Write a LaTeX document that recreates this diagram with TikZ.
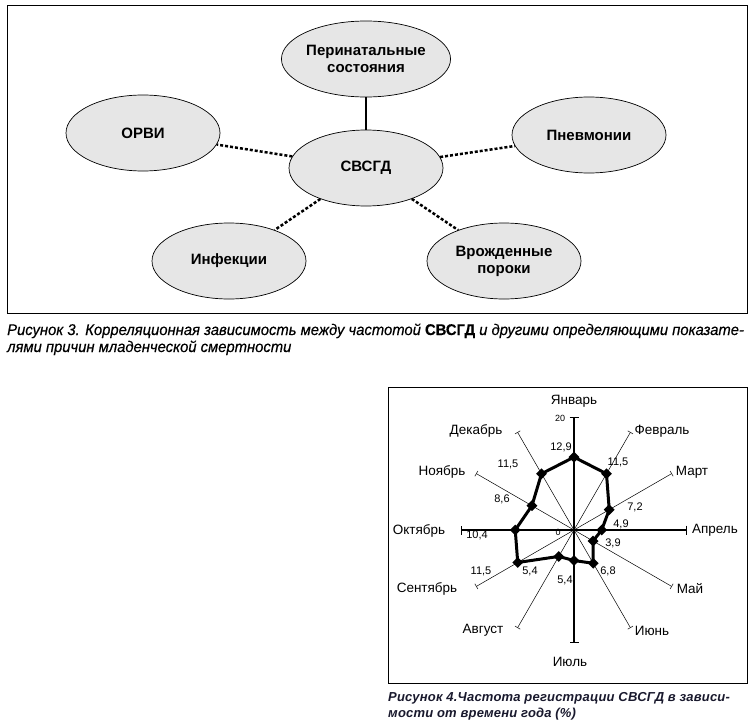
\documentclass[tikz,border=0pt]{standalone}
\usepackage{fontspec}
\usepackage{graphicx}
\setmainfont{Liberation Sans}
\newfontfamily\capthree[FakeStretch=0.955,FakeBold=0.4]{Liberation Sans}
\newfontfamily\capfour[LetterSpace=1.5]{Liberation Sans}
\usetikzlibrary{shapes.geometric,arrows.meta}
\definecolor{ellfill}{RGB}{230,230,230}
\definecolor{capdark}{RGB}{25,25,45}
\begin{document}
\begin{tikzpicture}[x=1pt,y=-1pt,
  ell/.style={ellipse, draw, line width=0.7pt, fill=ellfill, minimum width=154pt, minimum height=76pt, inner sep=0pt, align=center, font=\fontsize{15}{17}\selectfont\bfseries},
  solidlink/.style={line width=1.2pt},
  dotlink/.style={line width=2.5pt, dash pattern=on 3pt off 2pt},
  month/.style={font=\fontsize{13.5}{15}\selectfont, inner sep=0pt},
  val/.style={font=\fontsize{11}{12}\selectfont, inner sep=0pt},
  tiny/.style={font=\fontsize{9}{10}\selectfont, inner sep=0pt},
  diam/.style={diamond, fill=black, inner sep=0pt, minimum size=11pt},
  cap3/.style={anchor=base west, inner sep=0pt, font=\capthree\itshape\fontsize{15.5}{17}\selectfont},
  cap4/.style={anchor=base west, inner sep=0pt, text=capdark, font=\capfour\bfseries\itshape\fontsize{13}{15}\selectfont}
]
\useasboundingbox (0,0) rectangle (750,723);
\fill[white] (0,0) rectangle (750,723);

% ---------- Figure 3 ----------
\draw[line width=1pt] (7,5) rectangle (747,313);
\node[ell] (per)   at (366,59)  {Перинатальные\\состояния};
\node[ell] (orvi)  at (143,133) {ОРВИ};
\node[ell] (svsgd) at (366,168) {СВСГД};
\node[ell] (pnev)  at (589,135) {Пневмонии};
\node[ell] (inf)   at (229,261) {Инфекции};
\node[ell] (vrozh) at (504,261) {Врожденные\\пороки};
\draw[solidlink] (per) -- (svsgd);
\draw[dotlink] (svsgd) -- (orvi);
\draw[dotlink] (svsgd) -- (pnev);
\draw[dotlink] (svsgd) -- (inf);
\draw[dotlink] (svsgd) -- (vrozh);

\node[cap3] (cap3a) at (7,335) {Рисунок 3. Корреляционная зависимость между частотой {\upshape\bfseries СВСГД} и другими определяющими показате-};
\node[cap3] (cap3b) at (7,352) {лями причин младенческой смертности};

% ---------- Figure 4 ----------
\draw[line width=0.8pt] (388,387) rectangle (747,683);
\begin{scope}[shift={(574,530)}, yscale=-1]
  \draw[line width=1.4pt, {Bar[width=9pt]}-{Bar[width=9pt]}] (90:113) -- (-90:113);
  \draw[line width=1.4pt, {Bar[width=9pt]}-{Bar[width=9pt]}] (0:113) -- (180:113);
  \foreach \a in {60,30,-30,-60}
    \draw[line width=0.5pt, {Bar[width=6pt]}-{Bar[width=6pt]}] (\a:113) -- (\a+180:113);
  \foreach \i/\a/\v in {1/90/12.9, 2/60/11.5, 3/30/7.2, 4/0/4.9, 5/-30/3.9, 6/-60/6.8, 7/-90/5.4, 8/-120/5.4, 9/-150/11.5, 10/180/10.4, 11/150/8.6, 12/120/11.5}
    \coordinate (m\i) at (\a:\v*5.65);
  \draw[line width=3pt, line join=round] (m1) -- (m2) -- (m3) -- (m4) -- (m5) -- (m6) -- (m7) -- (m8) -- (m9) -- (m10) -- (m11) -- (m12) -- cycle;
  \foreach \i in {1,...,12}
    \node[diam] (d\i) at (m\i) {};
\end{scope}

% month labels
\node[month] (jan) at (574,401) {Январь};
\node[month] (feb) at (662,431) {Февраль};
\node[month] (mar) at (692,472) {Март};
\node[month] (apr) at (715,530) {Апрель};
\node[month] (may) at (690,589) {Май};
\node[month] (jun) at (652,631) {Июнь};
\node[month] (jul) at (570,662) {Июль};
\node[month] (aug) at (483,630) {Август};
\node[month] (sep) at (427,589) {Сентябрь};
\node[month] (oct) at (419,531) {Октябрь};
\node[month] (nov) at (442,472) {Ноябрь};
\node[month] (dec) at (476,431) {Декабрь};

% value labels
\node[tiny] (v20) at (560,418) {20};
\node[tiny] (v0)  at (558,532) {0};
\node[val] (vjan) at (561,447) {12,9};
\node[val] (vfeb) at (618,462) {11,5};
\node[val] (vdec) at (508,464) {11,5};
\node[val] (vnov) at (502,499) {8,6};
\node[val] (vmar) at (635,507) {7,2};
\node[val] (vapr) at (621,524) {4,9};
\node[val] (voct) at (477,535) {10,4};
\node[val] (vmay) at (613,543) {3,9};
\node[val] (vsep) at (481,571) {11,5};
\node[val] (vaug) at (530,571) {5,4};
\node[val] (vjun) at (608,571) {6,8};
\node[val] (vjul) at (565,580) {5,4};

\node[cap4] (cap4a) at (388,701) {Рисунок 4.Частота регистрации СВСГД в зависи-};
\node[cap4] (cap4b) at (388,717) {мости от времени года (\%)};
\end{tikzpicture}
\end{document}
